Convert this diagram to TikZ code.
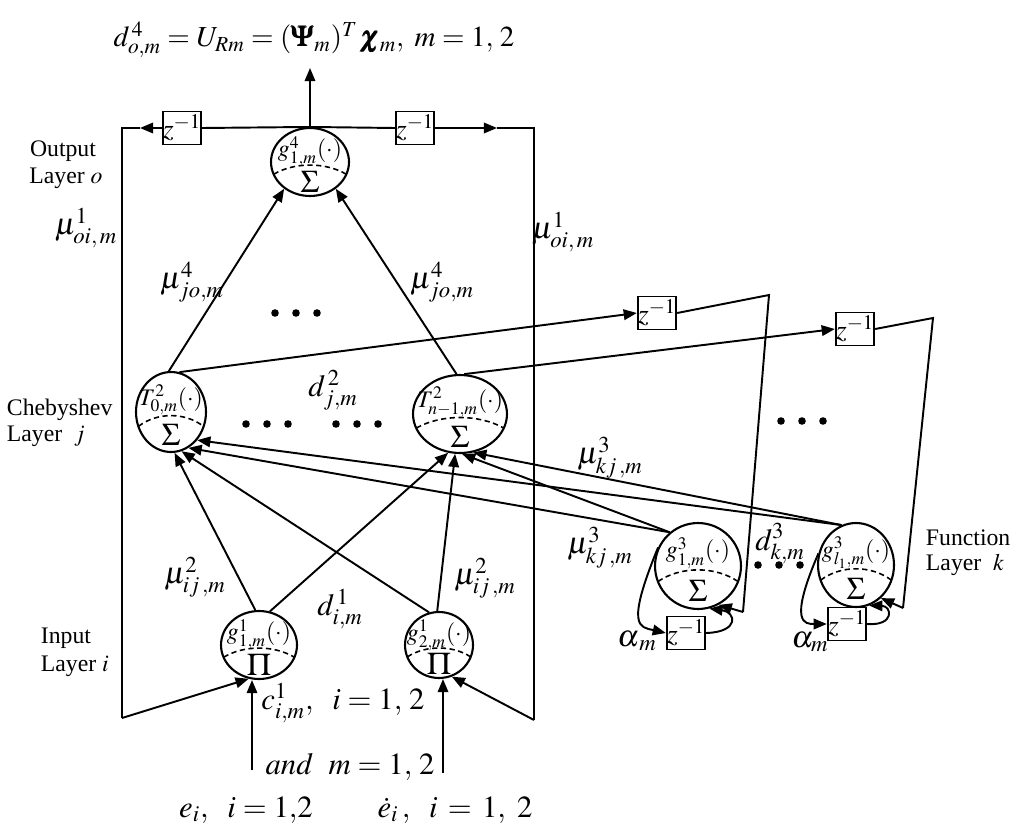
\documentclass[tikz,border=0pt]{standalone}
\usepackage{amsmath}
\usepackage{mathptmx}
\usepackage{fontspec}
\setmainfont{Liberation Serif}
\usetikzlibrary{arrows.meta,shapes.geometric,calc}
\newcommand\nrn[7]{%
 \node[neu, minimum width=#4*0.04cm, minimum height=#5*0.04cm] (#1) at (#2,#3) {};
 \node[ntop] at (#2,#3-0.3*#5) {$#6$};
 \node[nbot] at (#2,#3+0.58*#5) {$#7$};
 \draw[dash pattern=on 3pt off 2pt, line width=0.9pt] (#2-0.93*#4,#3+0.36*#5) .. controls (#2-0.4*#4,#3+0.0*#5) and (#2+0.4*#4,#3+0.0*#5) .. (#2+0.93*#4,#3+0.36*#5);
}
\begin{document}
\begin{tikzpicture}[x=0.02cm,y=-0.02cm, line width=1.1pt,
 arr/.style={-{Triangle[length=7.5pt,width=6pt]}},
 zbox/.style={draw, minimum width=0.66cm, minimum height=0.66cm, inner sep=0pt, font=\fontsize{16}{18}\selectfont},
 lbl/.style={font=\fontsize{17.5}{20}\selectfont, inner sep=0pt},
 txt/.style={font=\fontsize{13.5}{16}\selectfont, inner sep=0pt},
 ntop/.style={font=\fontsize{13.5}{15}\selectfont, inner sep=0pt},
 nbot/.style={font=\fontsize{18}{20}\selectfont, inner sep=0pt},
 neu/.style={draw, ellipse, inner sep=0pt, line width=1.2pt}
]
\useasboundingbox (0,0) rectangle (1024,838);

% neurons
\nrn{o}{310}{162}{39}{34}{g^{4}_{1,m}(\cdot)}{\Sigma}
\nrn{c0}{171}{412}{35}{40}{T^{2}_{0,m}(\cdot)}{\Sigma}
\nrn{cn}{460}{414}{47}{39}{T^{2}_{n-1,m}(\cdot)}{\Sigma}
\nrn{i1}{259}{645}{38}{34}{g^{1}_{1,m}(\cdot)}{\Pi}
\nrn{i2}{439}{645}{34}{33}{g^{1}_{2,m}(\cdot)}{\Pi}
\nrn{f1}{698}{566}{43}{43}{g^{3}_{1,m}(\cdot)}{\Sigma}
\nrn{f2}{856}{565}{38}{42}{g^{3}_{l_1,m}(\cdot)}{\Sigma}

% delay boxes
\node[zbox] (zo1) at (182,128) {$z^{-1}$};
\node[zbox] (zo2) at (415,128) {$z^{-1}$};
\node[zbox] (zf1) at (657,313) {$z^{-1}$};
\node[zbox] (zf2) at (855,329) {$z^{-1}$};
\node[zbox] (zb1) at (686,633) {$z^{-1}$};
\node[zbox] (zb2) at (847,624) {$z^{-1}$};

% coordinates
\coordinate (otop) at (310,68);
\coordinate (aL) at (140,128);
\coordinate (tl) at (122,128);
\coordinate (bl) at (122,718);
\coordinate (aR) at (497,128);
\coordinate (tr) at (534,128);
\coordinate (br) at (534,720);
\coordinate (ein) at (252,770);
\coordinate (edin) at (443,773);
\coordinate (p1) at (769,295);
\coordinate (q1) at (743,612);
\coordinate (p2) at (933,318);
\coordinate (q2) at (903,608);

% output and top feedback
\draw[arr] (o.north) -- (otop);
\draw (o.north) -- (zo1.east);
\draw[arr] (zo1.west) -- (aL);
\draw (aL) -- (tl) -- (bl);
\draw[arr] (bl) -- (i1.-107);
\draw (o.north) -- (zo2.west);
\draw[arr] (zo2.east) -- (aR);
\draw (aR) -- (tr) -- (br);
\draw[arr] (br) -- (i2.-68);

% inputs
\draw[arr] (ein) -- (i1.south -| ein);
\draw[arr] (edin) -- (i2.south -| edin);

% into Chebyshev layer
\draw[arr] (i1.96) -- (c0.-85);
\draw[arr] (i2.107) -- (c0.-75);
\draw[arr] (f1.130) -- (c0.-64);
\draw[arr] (f2.110) -- (c0.-47);
\draw[arr] (i1.72) -- (cn.-107);
\draw[arr] (i2.93) -- (cn.-97);
\draw[arr] (f1.130) -- (cn.-87);
\draw[arr] (f2.110) -- (cn.-71);

% into output
\draw[arr] (c0.93) -- (o.226);
\draw[arr] (cn.95) -- (o.314);

% Chebyshev feedback to function layer
\draw[arr] (c0.78) -- (zf1.west);
\draw (zf1.east) -- (p1) -- (q1);
\draw[arr] (q1) -- (f1.-62);
\draw[arr] (cn.84) -- (zf2.west);
\draw (zf2.east) -- (p2) -- (q2);
\draw[arr] (q2) -- (f2.-53);

% self loops
\draw[arr] (f1.155) .. controls (625,628) and (640,627) .. (zb1.west);
\draw[arr] (zb1.east) .. controls (740,632) and (736,612) .. (f1.-75);
\draw[arr] (f2.163) .. controls (788,624) and (805,624) .. (zb2.west);
\draw[arr] (zb2.east) .. controls (895,626) and (892,606) .. (f2.-72);

% dots
\foreach \x in {275,296,317} \fill (\x,313) circle (3.8);
\foreach \x in {246,267,288,336,357,378} \fill (\x,424) circle (3.8);
\foreach \x in {781,802,823} \fill (\x,421) circle (3.8);
\foreach \x in {758,779,800} \fill (\x,565) circle (3.8);

% layer texts
\node[txt] (tOut) at (63,151) {Output};
\node[txt] (tOutL) at (66,178) {Layer $o$};
\node[txt, anchor=west] (tCh) at (6,410) {Chebyshev};
\node[txt, anchor=west] (tChL) at (6,436) {Layer\ \ $j$};
\node[txt, anchor=west] (tIn) at (40,638) {Input};
\node[txt, anchor=west] (tInL) at (40,666) {Layer $i$};
\node[txt, anchor=west] (tFn) at (925,538) {Function};
\node[txt, anchor=west] (tFnL) at (925,565) {Layer\ \ $k$};

% math labels
\node[lbl, font=\fontsize{16.5}{19}\selectfont] (Lf) at (314,40) {$d^{\,4}_{o,m} = U_{Rm} = (\pmb{\Psi}_{m})^{T}\, \pmb{\chi}_{m},\ m = 1,\,2$};
\node[lbl] (Lmo1) at (86,228) {$\mu^{1}_{oi,\,m}$};
\node[lbl] (Lmo2) at (563,232) {$\mu^{1}_{oi,\,m}$};
\node[lbl] (Lj1) at (192,282) {$\mu^{4}_{jo,m}$};
\node[lbl] (Lj2) at (442,282) {$\mu^{4}_{jo,m}$};
\node[lbl] (Ld2) at (333,390) {$d^{\,2}_{j,m}$};
\node[lbl] (Lk1) at (610,458) {$\mu^{3}_{kj\,,m}$};
\node[lbl] (Lk2) at (600,548) {$\mu^{3}_{kj\,,m}$};
\node[lbl] (Ld3) at (780,544) {$d^{3}_{k,m}$};
\node[lbl] (La1) at (637,641) {$\alpha_{\,m}$};
\node[lbl] (La2) at (810,642) {$\alpha_{m}$};
\node[lbl] (Li1) at (195,577) {$\mu^{2}_{ij\,,m}$};
\node[lbl] (Li2) at (485,578) {$\mu^{2}_{ij\,,m}$};
\node[lbl] (Ld1) at (340,609) {$d^{\,1}_{i,m}$};
\node[lbl] (Lc) at (343,703) {$c^{1}_{i,m},\ \ i = 1,\,2$};
\node[lbl] (Lm) at (350,767) {$and\ \ m = 1,\,2$};
\node[lbl] (Le) at (246,810) {$e_{i},\ \ i = 1{,}2$};
\node[lbl] (Led) at (455,810) {$\dot{e}_{i}\,,\ \ i\, =\, 1,\ 2$};
\end{tikzpicture}
\end{document}
